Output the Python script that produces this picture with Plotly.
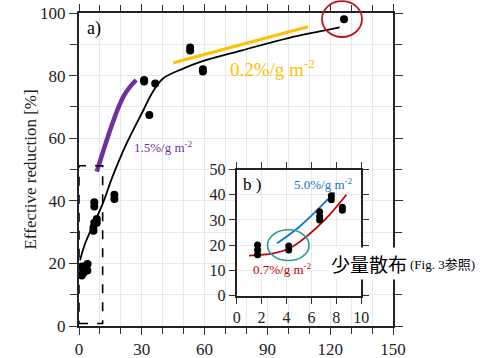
import plotly.graph_objects as go

# ---- main panel data (a) ----
main_x = [1.3, 1.4, 2.9, 2.2, 4.0, 4.1, 6.9, 6.9, 7.3, 7.3, 7.3, 8.5, 8.5, 16.9, 16.9,
          31.1, 31.1, 33.6, 36.4, 53.1, 53.1, 59.2, 59.2, 126.6]
main_y = [16.1, 19.0, 19.1, 17.0, 17.7, 19.8, 30.4, 31.5, 33.0, 38.2, 39.5, 34.2, 33.0, 41.9, 40.6,
          78.1, 78.6, 67.4, 77.5, 88.0, 89.0, 81.3, 82.0, 98.0]

fit_x = [0.5, 3.0, 11.3, 15.6, 22.8, 30.8, 35.0, 40.0, 50.0, 58.0, 77.5, 100.0, 124.5]
fit_y = [21.0, 26.5, 39.0, 47.0, 58.4, 69.0, 74.5, 79.0, 82.3, 84.4, 88.0, 92.0, 95.4]

purple_x = [8.5, 21.2, 27.3]
purple_y = [49.3, 73.3, 78.6]

yellow_x = [45.1, 109.4]
yellow_y = [84.1, 95.6]

main_xticks = [0, 30, 60, 90, 120, 150]
main_xminor = list(range(0, 151, 10))
main_yticks = [0, 20, 40, 60, 80, 100]
main_yminor = list(range(0, 101, 10))

# ---- inset data (b) ----
ins_x = [1.68, 1.68, 1.68, 4.18, 4.18, 6.66, 6.66, 6.66, 7.6, 7.6, 8.48, 8.48]
ins_y = [20.1, 18.1, 16.2, 19.7, 18.1, 33.3, 31.4, 30.0, 39.6, 38.0, 35.0, 33.8]

red_x = [1.0, 2.93, 4.26, 5.6, 7.2, 8.8]
red_y = [15.9, 16.8, 18.8, 23.4, 30.7, 40.0]

blue_x = [3.25, 5.06, 7.86]
blue_y = [20.8, 27.4, 40.9]

ins_xticks = [0, 2, 4, 6, 8, 10]
ins_yticks = [0, 10, 20, 30, 40, 50]

SERIF = "Liberation Serif"

fig = go.Figure()

fig.add_trace(go.Scatter(x=fit_x, y=fit_y, mode="lines", line=dict(color="black", width=1.8, shape="spline"),
                         xaxis="x", yaxis="y", showlegend=False))
fig.add_trace(go.Scatter(x=purple_x, y=purple_y, mode="lines", line=dict(color="#7030A0", width=4.5, shape="spline"),
                         xaxis="x", yaxis="y", showlegend=False))
fig.add_trace(go.Scatter(x=yellow_x, y=yellow_y, mode="lines", line=dict(color="#FFC000", width=3),
                         xaxis="x", yaxis="y", showlegend=False))
fig.add_trace(go.Scatter(x=main_x, y=main_y, mode="markers", marker=dict(color="black", size=8),
                         xaxis="x", yaxis="y", showlegend=False))

fig.add_trace(go.Scatter(x=red_x, y=red_y, mode="lines", line=dict(color="#C00000", width=1.8, shape="spline"),
                         xaxis="x2", yaxis="y2", showlegend=False))
fig.add_trace(go.Scatter(x=blue_x, y=blue_y, mode="lines", line=dict(color="#0F75C8", width=1.8, shape="spline"),
                         xaxis="x2", yaxis="y2", showlegend=False))
fig.add_trace(go.Scatter(x=ins_x, y=ins_y, mode="markers", marker=dict(color="black", size=7),
                         xaxis="x2", yaxis="y2", showlegend=False))


def ax(size, ticklen, vals, minor_vals=None):
    d = dict(showline=True, linecolor="#222", linewidth=2, mirror="allticks",
             ticks="outside", tickcolor="#333", ticklen=ticklen, showgrid=True, gridcolor="#e8e8e8",
             gridwidth=1, zeroline=False, tickvals=vals, automargin=False,
             tickfont=dict(family=SERIF, size=size, color="#222"))
    if minor_vals is not None:
        d["minor"] = dict(tickvals=minor_vals, ticks="outside", ticklen=ticklen - 1, tickcolor="#333",
                          showgrid=True, gridcolor="#e8e8e8", gridwidth=1)
    return d


fig.update_layout(
    width=482, height=358,
    margin=dict(l=79, r=89, t=13, b=32),
    paper_bgcolor="white", plot_bgcolor="white",
    font=dict(family=SERIF, color="#222"),
    hovermode=False,
    xaxis=dict(range=[0, 150], domain=[0, 1], **ax(17, 7, main_xticks, main_xminor)),
    yaxis=dict(range=[0, 100], domain=[0, 1], **ax(17, 8, main_yticks, main_yminor)),
    xaxis2=dict(range=[0, 10], domain=[0.502, 0.899], anchor="y2", **ax(16, 6, ins_xticks)),
    yaxis2=dict(range=[0, 50], domain=[0.097, 0.5], anchor="x2", **ax(16, 6, ins_yticks)),
)

shapes = [
    dict(type="rect", xref="x", yref="y", x0=75.2, x1=134.8, y0=9.7, y1=50.0,
         fillcolor="white", line=dict(width=0), layer="between"),
    dict(type="rect", xref="x", yref="y", x0=0, x1=11.3, y0=0.8, y1=51.2,
         line=dict(color="black", width=1.6, dash="dash")),
    dict(type="circle", xref="paper", yref="paper", x0=0.7739, x1=0.9013, y0=0.9233, y1=1.038,
         line=dict(color="#C0141C", width=1.8)),
    dict(type="circle", xref="x2", yref="y2", x0=2.48, x1=5.81, y0=13.9, y1=26.1,
         line=dict(color="#2F9898", width=1.6)),
]
fig.update_layout(shapes=shapes)

ann = [
    dict(text="Effective reduction [%]", xref="paper", yref="paper", x=-0.156, y=0.5, textangle=-90,
         xanchor="center", yanchor="middle",
         showarrow=False, font=dict(family=SERIF, size=17, color="#222")),
    dict(text="a)", xref="x", yref="y", x=7.2, y=95, showarrow=False,
         font=dict(family=SERIF, size=18, color="black")),
    dict(text="0.2%/g m<sup>-2</sup>", xref="x", yref="y", x=92.3, y=82.3, showarrow=False,
         font=dict(family=SERIF, size=19, color="#FFC000")),
    dict(text="1.5%/g m<sup>-2</sup>", xref="x", yref="y", x=40.5, y=57.3, showarrow=False,
         font=dict(family=SERIF, size=13, color="#7030A0")),
    dict(text="b )", xref="x2", yref="y2", x=1.22, y=43.9, showarrow=False,
         font=dict(family=SERIF, size=17, color="black")),
    dict(text="5.0%/g m<sup>-2</sup>", xref="x2", yref="y2", x=6.98, y=44.3, showarrow=False,
         font=dict(family=SERIF, size=13, color="#0F75C8")),
    dict(text="0.7%/g m<sup>-2</sup>", xref="x2", yref="y2", x=3.7, y=10.6, showarrow=False,
         font=dict(family=SERIF, size=13, color="#C00000")),
    dict(text="(Fig. 3参照)", xref="paper", yref="paper",
         x=1.158, y=0.195, xanchor="center", yanchor="middle", showarrow=False, bgcolor="white",
         borderpad=5,
         font=dict(family="Liberation Serif, Noto Sans CJK JP", size=13, color="black")),
    dict(text="少量散布", xref="paper", yref="paper",
         x=0.925, y=0.201, xanchor="center", yanchor="middle", showarrow=False, bgcolor="white",
         borderpad=2,
         font=dict(family="Noto Sans CJK JP", size=19, color="black")),
]
fig.update_layout(annotations=ann)

fig.write_html("out.html", config={"displayModeBar": False},
               post_script="document.body.style.margin='0';")
